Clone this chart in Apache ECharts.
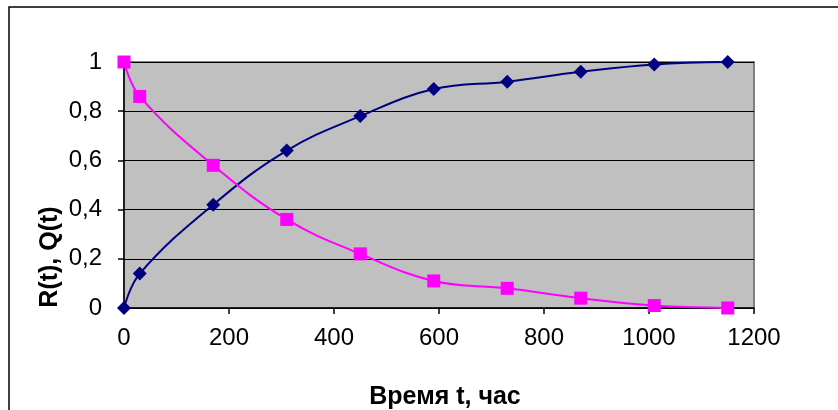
<!DOCTYPE html>
<html>
<head>
<meta charset="utf-8">
<script src="https://cdn.jsdelivr.net/npm/echarts@6/dist/echarts.min.js"></script>
<style>
  html, body { margin: 0; padding: 0; background: #fff; }
  #container { width: 838px; height: 410px; }
</style>
</head>
<body>
<div id="container"></div>
<script>
// time, hours
var time = [0, 30, 170, 310, 450, 590, 730, 870, 1010, 1150];
// R(t) and Q(t) values
var rValues = [0, 0.14, 0.42, 0.64, 0.78, 0.89, 0.92, 0.96, 0.99, 1.0];
var qValues = [1.0, 0.86, 0.58, 0.36, 0.22, 0.11, 0.08, 0.04, 0.01, 0];

var xName = 'Время t, час';
var yName = 'R(t), Q(t)';

function pairs(xs, ys) {
    return xs.map(function (x, i) { return [x, ys[i]]; });
}

var dom = document.getElementById('container');
var myChart = echarts.init(dom, null, { renderer: 'canvas' });

var font = 'Liberation Sans, Arial, sans-serif';

var option = {
    animation: false,
    graphic: [
        {
            type: 'rect',
            shape: { x: 9, y: 7, width: 900, height: 500 },
            style: { fill: 'none', stroke: '#000', lineWidth: 1.5 },
            silent: true
        },
        {
            type: 'text',
            x: 445, y: 397,
            style: {
                text: xName, fontFamily: font, fontSize: 25, fontWeight: 'bold',
                fill: '#000', align: 'center', verticalAlign: 'middle'
            }
        },
        {
            type: 'text',
            x: 50, y: 257,
            rotation: Math.PI / 2,
            style: {
                text: yName, fontFamily: font, fontSize: 25, fontWeight: 'bold',
                fill: '#000', align: 'center', verticalAlign: 'middle'
            }
        }
    ],
    grid: {
        left: 124,
        right: 84,
        top: 62,
        bottom: 102,
        show: true,
        backgroundColor: '#C0C0C0',
        borderColor: '#808080',
        borderWidth: 2
    },
    xAxis: {
        type: 'value',
        min: 0,
        max: 1200,
        interval: 200,
        axisLine: { show: true, onZero: false, lineStyle: { color: '#000', width: 1.5 } },
        axisTick: { show: true, inside: false, length: 6, lineStyle: { color: '#000', width: 1.5 } },
        axisLabel: {
            fontFamily: font, fontSize: 24, color: '#000', margin: 18,
            formatter: function (v) { return String(v); }
        },
        splitLine: { show: false }
    },
    yAxis: {
        type: 'value',
        min: 0,
        max: 1,
        interval: 0.2,
        axisLine: { show: true, lineStyle: { color: '#000', width: 1.5 } },
        axisTick: { show: true, inside: false, length: 6, lineStyle: { color: '#000', width: 1.5 } },
        axisLabel: {
            fontFamily: font, fontSize: 24, color: '#000', margin: 22,
            formatter: function (v) { return String(Math.round(v * 10) / 10).replace('.', ','); }
        },
        splitLine: { show: true, lineStyle: { color: '#000', width: 1.2 } }
    },
    series: [
        {
            name: 'R(t)',
            type: 'line',
            smooth: 0.4,
            data: pairs(time, rValues),
            symbol: 'diamond',
            symbolSize: 14,
            lineStyle: { color: '#000080', width: 2 },
            itemStyle: { color: '#000080' }
        },
        {
            name: 'Q(t)',
            type: 'line',
            smooth: 0.4,
            data: pairs(time, qValues),
            symbol: 'rect',
            symbolSize: 13,
            lineStyle: { color: '#FF00FF', width: 2 },
            itemStyle: { color: '#FF00FF' }
        }
    ]
};

myChart.setOption(option);
window.addEventListener('resize', myChart.resize);
</script>
</body>
</html>
